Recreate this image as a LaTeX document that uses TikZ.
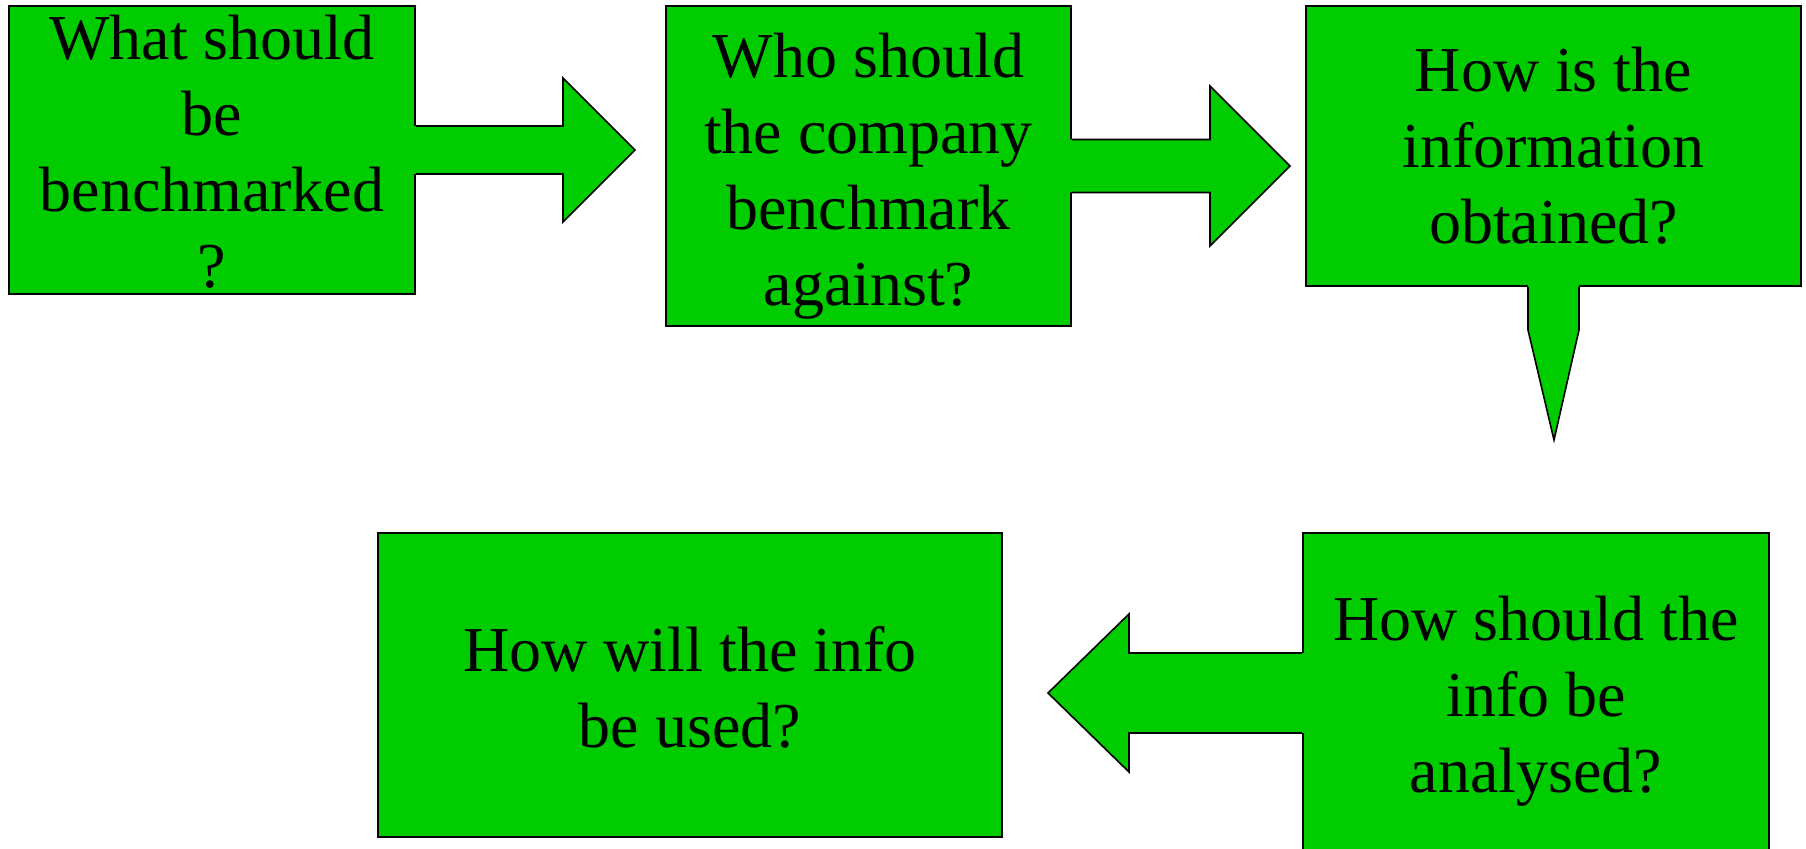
\documentclass[tikz,border=0pt]{standalone}
\usepackage{fontspec}
\setmainfont{Liberation Serif}
\usetikzlibrary{calc}
\definecolor{boxgreen}{HTML}{00CC00}
\begin{document}
\begin{tikzpicture}[x=0.5pt,y=-0.5pt,
  box/.style={draw=black, line width=1pt, fill=boxgreen, inner sep=0pt},
  txt/.style={inner sep=0pt, align=center, font=\fontsize{32}{38}\selectfont, text=black},
  arrowfill/.style={fill=boxgreen},
  arrowline/.style={draw=black, line width=0.8pt, line join=miter}]
\useasboundingbox (0,0) rectangle (1806,849);
\begin{scope}
\clip (0,0) rectangle (1806,849);
% boxes
\node[box, minimum width=203pt, minimum height=144pt] (q1) at (212,150) {};
\node[box, minimum width=202.5pt, minimum height=160pt] (q2) at (868.5,166) {};
\node[box, minimum width=247.5pt, minimum height=140pt] (q3) at (1553.5,146) {};
\node[box, minimum width=233pt, minimum height=166pt] (q5) at (1536,699) {};
\node[box, minimum width=312pt, minimum height=152pt] (q4) at (690,685) {};

% texts
\node[txt] (t1) at ($(q1.center)+(0,2)$) {What should\\be\\benchmarked\\?};
\node[txt] (t2) at ($(q2.center)+(0,10)$) {Who should\\the company\\benchmark\\against?};
\node[txt] (t3) at ($(q3.center)+(0,0)$) {How is the\\information\\obtained?};
\node[txt] (t5) at ($(q5.center)+(0,2)$) {How should the\\info be\\analysed?};
\node[txt] (t4) at ($(q4.center)+(0,2)$) {How will the info\\be used?};

% arrow 1 : q1 -> q2
\coordinate (a1) at (q1.east);
\fill[arrowfill] ($(a1)+(-3,-24)$) -- ($(a1)+(147,-24)$) -- ($(a1)+(147,-72)$) -- ($(a1)+(219,0)$)
  -- ($(a1)+(147,72)$) -- ($(a1)+(147,24)$) -- ($(a1)+(-3,24)$) -- cycle;
\draw[arrowline] ($(a1)+(0,-24)$) -- ($(a1)+(147,-24)$) -- ($(a1)+(147,-72)$) -- ($(a1)+(219,0)$)
  -- ($(a1)+(147,72)$) -- ($(a1)+(147,24)$) -- ($(a1)+(0,24)$);

% arrow 2 : q2 -> q3
\coordinate (a2) at (q2.east);
\fill[arrowfill] ($(a2)+(-3,-26.5)$) -- ($(a2)+(138,-26.5)$) -- ($(a2)+(138,-80)$) -- ($(a2)+(218,0)$)
  -- ($(a2)+(138,80)$) -- ($(a2)+(138,26.5)$) -- ($(a2)+(-3,26.5)$) -- cycle;
\draw[arrowline] ($(a2)+(0,-26.5)$) -- ($(a2)+(138,-26.5)$) -- ($(a2)+(138,-80)$) -- ($(a2)+(218,0)$)
  -- ($(a2)+(138,80)$) -- ($(a2)+(138,26.5)$) -- ($(a2)+(0,26.5)$);

% callout tail of q3
\coordinate (a3) at (q3.south);
\fill[arrowfill] ($(a3)+(-25.5,-3)$) -- ($(a3)+(-25.5,43)$) -- ($(a3)+(0.5,153)$) -- ($(a3)+(25.5,43)$)
  -- ($(a3)+(25.5,-3)$) -- cycle;
\draw[arrowline] ($(a3)+(-25.5,0)$) -- ($(a3)+(-25.5,43)$) -- ($(a3)+(0.5,153)$) -- ($(a3)+(25.5,43)$)
  -- ($(a3)+(25.5,0)$);

% arrow 3 : q5 -> q4
\coordinate (a4) at ($(q5.west)+(0,-6)$);
\fill[arrowfill] ($(a4)+(3,-40)$) -- ($(a4)+(-173,-40)$) -- ($(a4)+(-173,-79)$) -- ($(a4)+(-254,0)$)
  -- ($(a4)+(-173,79)$) -- ($(a4)+(-173,40)$) -- ($(a4)+(3,40)$) -- cycle;
\draw[arrowline] ($(a4)+(0,-40)$) -- ($(a4)+(-173,-40)$) -- ($(a4)+(-173,-79)$) -- ($(a4)+(-254,0)$)
  -- ($(a4)+(-173,79)$) -- ($(a4)+(-173,40)$) -- ($(a4)+(0,40)$);
\end{scope}
\end{tikzpicture}
\end{document}
